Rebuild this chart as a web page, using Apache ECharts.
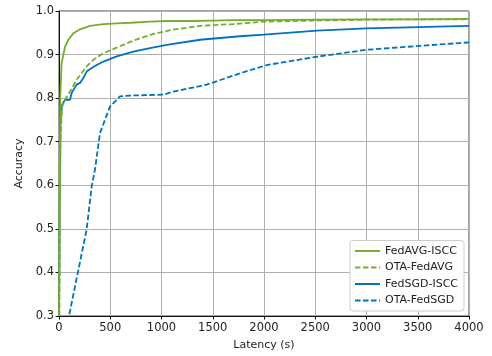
<!DOCTYPE html>
<html>
<head>
<meta charset="utf-8">
<script src="https://cdn.jsdelivr.net/npm/echarts@6/dist/echarts.min.js"></script>
<style>
  html, body { margin: 0; padding: 0; background: #fff; }
  #chart { width: 492px; height: 356px; }
</style>
</head>
<body>
<div id="chart"></div>
<script>
// axis ticks
const xTicks = [0, 500, 1000, 1500, 2000, 2500, 3000, 3500, 4000];
const yTicks = [0.3, 0.4, 0.5, 0.6, 0.7, 0.8, 0.9, 1.0];

// FedAVG-ISCC
const fedavgIsccX = [0, 6, 12, 25, 42, 59, 91, 140, 205, 302, 433, 563, 700, 888, 1051, 1300, 1500, 1700, 2000, 2500, 3000, 3500, 4000];
const fedavgIsccY = [0.3, 0.6, 0.8, 0.88, 0.899, 0.918, 0.934, 0.949, 0.958, 0.966, 0.970, 0.9715, 0.973, 0.9755, 0.977, 0.977, 0.978, 0.979, 0.979, 0.980, 0.981, 0.981, 0.982];

// OTA-FedAVG
const otaFedavgX = [4, 15, 30, 60, 91, 172, 270, 335, 433, 563, 725, 888, 1083, 1376, 1700, 2000, 2500, 3000, 3500, 4000];
const otaFedavgY = [0.3, 0.7, 0.78, 0.798, 0.808, 0.842, 0.873, 0.888, 0.903, 0.916, 0.932, 0.945, 0.956, 0.966, 0.970, 0.9755, 0.978, 0.980, 0.981, 0.981];

// FedSGD-ISCC
const fedsgdIsccX = [0, 8, 15, 30, 59, 107, 124, 172, 205, 237, 270, 319, 368, 433, 563, 725, 888, 1051, 1376, 1766, 2000, 2515, 3002, 3500, 4000];
const fedsgdIsccY = [0.3, 0.6, 0.75, 0.785, 0.796, 0.796, 0.812, 0.831, 0.835, 0.846, 0.861, 0.869, 0.876, 0.884, 0.896, 0.907, 0.915, 0.922, 0.934, 0.942, 0.946, 0.955, 0.960, 0.963, 0.966];

// OTA-FedSGD
const otaFedsgdX = [101, 270, 319, 351, 400, 498, 563, 595, 693, 1018, 1115, 1441, 1766, 2027, 2515, 3002, 3522, 4000];
const otaFedsgdY = [0.304, 0.499, 0.598, 0.636, 0.720, 0.781, 0.796, 0.804, 0.806, 0.808, 0.815, 0.831, 0.857, 0.876, 0.895, 0.911, 0.920, 0.928];

const green = '#77AC30';
const blue = '#0072BD';
const font = 'DejaVu Sans';

const zip = (xs, ys) => xs.map((x, i) => [x, ys[i]]);

const mkSeries = (name, xs, ys, color, dashed) => ({
  name, type: 'line', showSymbol: false, symbol: 'none', smooth: false,
  data: zip(xs, ys),
  lineStyle: { color, width: 1.8, type: dashed ? [5.5, 2.5] : 'solid' },
  itemStyle: { color },
  clip: true
});

const chart = echarts.init(document.getElementById('chart'), null, { renderer: 'canvas' });
chart.setOption({
  animation: false,
  backgroundColor: '#fff',
  grid: { left: 59, right: 23, top: 11, bottom: 39, show: true, borderColor: '#444', borderWidth: 1, backgroundColor: 'transparent' },
  legend: {
    right: 28, bottom: 45, orient: 'vertical',
    backgroundColor: '#fff', borderColor: '#cccccc', borderWidth: 1, borderRadius: 3,
    padding: [5, 6, 5, 4], itemGap: 5.5, itemWidth: 25, itemHeight: 11,
    itemStyle: { opacity: 0 },
    textStyle: { fontFamily: font, fontSize: 11, color: '#222' },
    data: ['FedAVG-ISCC', 'OTA-FedAVG', 'FedSGD-ISCC', 'OTA-FedSGD']
  },
  xAxis: {
    type: 'value', min: 0, max: 4000, interval: 500,
    name: 'Latency (s)', nameLocation: 'middle', nameGap: 24,
    nameTextStyle: { fontFamily: font, fontSize: 11, color: '#222' },
    axisLine: { show: true, lineStyle: { color: '#111', width: 1 } },
    axisTick: { show: true, length: 3.5, lineStyle: { color: '#111' } },
    axisLabel: { fontFamily: font, fontSize: 11.5, color: '#222', margin: 6,
      formatter: v => xTicks.includes(v) ? String(v) : '' },
    splitLine: { show: true, lineStyle: { color: '#b0b0b0', width: 1 } }
  },
  yAxis: {
    type: 'value', min: 0.3, max: 1.0, interval: 0.1,
    name: 'Accuracy', nameLocation: 'middle', nameGap: 30,
    nameTextStyle: { fontFamily: font, fontSize: 11, color: '#222' },
    axisLine: { show: true, lineStyle: { color: '#111', width: 1 } },
    axisTick: { show: true, length: 3.5, lineStyle: { color: '#111' } },
    axisLabel: { fontFamily: font, fontSize: 11.5, color: '#222', margin: 5,
      formatter: v => {
        const t = yTicks.find(k => Math.abs(k - v) < 1e-6);
        return t !== undefined ? t.toFixed(1) : '';
      } },
    splitLine: { show: true, lineStyle: { color: '#b0b0b0', width: 1 } }
  },
  series: [
    mkSeries('OTA-FedSGD', otaFedsgdX, otaFedsgdY, blue, true),
    mkSeries('FedSGD-ISCC', fedsgdIsccX, fedsgdIsccY, blue, false),
    mkSeries('OTA-FedAVG', otaFedavgX, otaFedavgY, green, true),
    mkSeries('FedAVG-ISCC', fedavgIsccX, fedavgIsccY, green, false)
  ]
});
</script>
</body>
</html>
